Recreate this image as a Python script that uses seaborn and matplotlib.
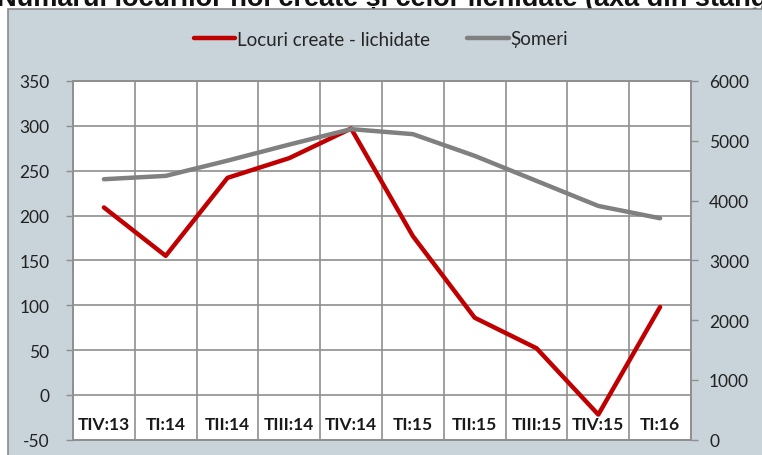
import matplotlib
matplotlib.use('Agg')
import matplotlib.pyplot as plt
from matplotlib.patches import Rectangle
import seaborn as sns
import pandas as pd
import numpy as np

# data
quarters = ['TIV:13', 'TI:14', 'TII:14', 'TIII:14', 'TIV:14',
            'TI:15', 'TII:15', 'TIII:15', 'TIV:15', 'TI:16']
locuri = [209, 155, 242, 264, 297, 177, 86, 52, -22, 98]
someri = [4357, 4413, 4668, 4937, 5195, 5111, 4748, 4329, 3910, 3704]

left_ticks = [-50, 0, 50, 100, 150, 200, 250, 300, 350]
right_ticks = [0, 1000, 2000, 3000, 4000, 5000, 6000]

title = ('Numărul locurilor noi create și celor lichidate '
         '(axa din stânga) și numărul șomerilor (axa din dreapta)')

RED = '#c00000'
GREY = '#808080'
GRID = '#8f8f8f'
FRAME = '#c9d3da'

sns.set_theme(style='white')
plt.rcParams['font.family'] = ['Lato', 'DejaVu Sans']
plt.rcParams['axes.unicode_minus'] = False

df = pd.DataFrame({'trim': quarters, 'locuri': locuri, 'someri': someri})
xpos = np.arange(len(quarters))

fig = plt.figure(figsize=(7.62, 4.56), dpi=100)
fig.patch.set_facecolor('white')

# chart frame (cut off at right/bottom like the screenshot)
fig.patches.append(Rectangle((8 / 762, -0.05), 1.2, 1 - 9.5 / 456 + 0.05,
                             transform=fig.transFigure, facecolor=FRAME,
                             edgecolor='#8a8a8a', linewidth=1.2, zorder=-10))

# title, mostly above the visible area as in the screenshot
fig.text(-0.004, 1 - 5.5 / 456, title, fontsize=19.5, fontweight='bold',
         family=['Liberation Sans', 'DejaVu Sans'], color='#111111',
         ha='left', va='baseline', zorder=-20)

ax = fig.add_axes([73 / 762, 1 - 440.7 / 456, (691 - 73) / 762, (440.7 - 82) / 456])
ax.set_facecolor('white')

sns.lineplot(x=xpos, y=df['locuri'], ax=ax, color=RED, linewidth=3.2,
             label='Locuri create - lichidate', legend=False, sort=False)
ax.set_xlim(-0.5, len(quarters) - 0.5)
ax.set_ylim(-50, 350)
ax.set_yticks(left_ticks)
ax.set_xticks(xpos)
ax.set_xticklabels(quarters, fontweight='bold', fontsize=12.5, color='#1a1a1a')
ax.set_xticks(xpos[:-1] + 0.5, minor=True)
ax.tick_params(axis='x', which='both', length=0, pad=-17)
ax.tick_params(axis='y', length=5, width=1, color=GRID, pad=12,
               labelsize=12.5, labelcolor='#222222', left=True)
ax.grid(axis='y', which='major', color=GRID, linewidth=1.2)
ax.grid(axis='x', which='minor', color=GRID, linewidth=1.2)
ax.set_xlabel('')
ax.set_ylabel('')
for s in ax.spines.values():
    s.set_color(GRID)
    s.set_linewidth(1.2)

ax2 = ax.twinx()
sns.lineplot(x=xpos, y=df['someri'], ax=ax2, color=GREY, linewidth=3.2,
             label='Șomeri', legend=False, sort=False)
ax2.set_ylim(0, 6000)
ax2.set_yticks(right_ticks)
ax2.tick_params(axis='y', length=5, width=1, color=GRID, pad=8,
                labelsize=12.5, labelcolor='#222222', right=True)
ax2.set_ylabel('')
ax2.grid(False)
for s in ax2.spines.values():
    s.set_color(GRID)
    s.set_linewidth(1.2)

h1, l1 = ax.get_legend_handles_labels()
h2, l2 = ax2.get_legend_handles_labels()
fig.legend(h1 + h2, l1 + l2, loc='center', bbox_to_anchor=(0.5, 1 - 40 / 456),
           ncol=2, frameon=False, fontsize=13.5, handlelength=2.2,
           handletextpad=0.1, columnspacing=2.0)

fig.savefig('out.png', dpi=100)
